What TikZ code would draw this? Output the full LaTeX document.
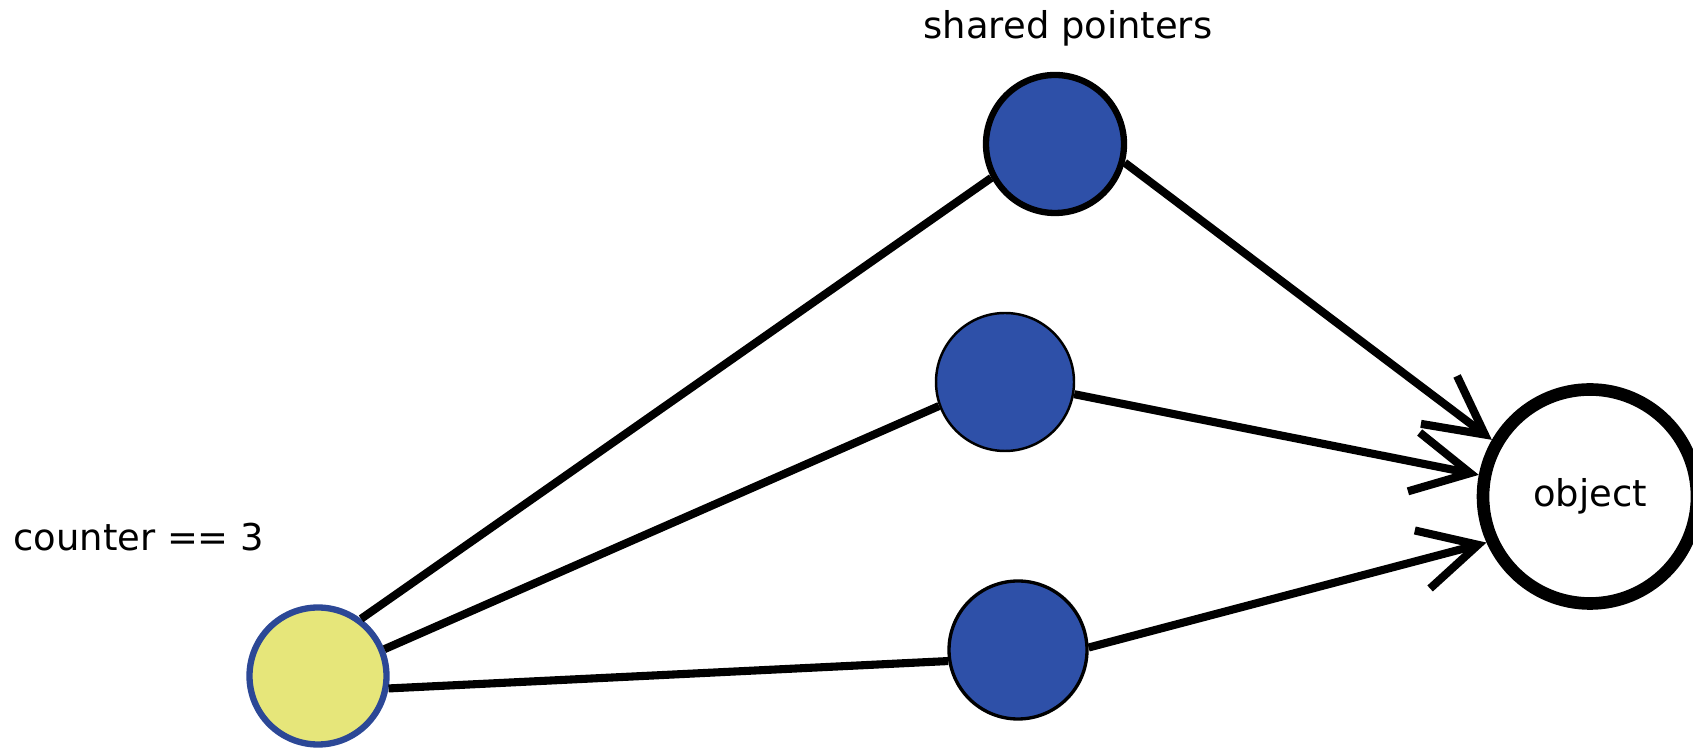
\documentclass[tikz,border=0pt]{standalone}
\usepackage{fontspec}
\setmainfont{DejaVu Sans}
\usetikzlibrary{arrows.meta}

\definecolor{pointerblue}{RGB}{46,80,168}
\definecolor{counteryellow}{RGB}{230,230,122}
\definecolor{counterrim}{RGB}{44,72,150}

\begin{document}
\begin{tikzpicture}[ptr/.style={draw=black, fill=pointerblue, circle, inner sep=0pt, minimum size=2.76cm}]
            \tikzset{link/.style = {line width=4.6pt}}
            \tikzset{edge/.style = {link, -{Straight Barb[length=1.15cm, width=1.2cm]}}}
            \tikzset{caption/.style = {font=\fontsize{21}{25}\selectfont, inner sep=0pt}}

            \useasboundingbox (0,0) rectangle (33.86,14.96);

            \node[circle, draw=counterrim, fill=counteryellow, line width=3.6pt, minimum size=2.74cm] (counter) at (6.36,1.44) {};
            \node[ptr, line width=3.6pt] (ptrA) at (21.1,12.08) {};
            \node[ptr, line width=1.4pt] (ptrB) at (20.1,7.32) {};
            \node[ptr, line width=1.9pt] (ptrC) at (20.36,1.96) {};
            \node[circle, draw, line width=7.2pt, minimum size=4.28cm, caption] (object) at (31.8,5.03) {object};

            \node[caption, anchor=west] (countlabel) at (0.26,4.21) {counter == 3};
            \node[caption] (ptrlabel) at (21.36,14.39) {shared pointers};

            \draw [link] (counter.53) to (ptrA.208);
            \draw [link] (counter.22) to (ptrB.200);
            \draw [link] (counter.-10) to (ptrC.189);

            \draw [edge] (ptrA.-15) to (object.150);
            \draw [edge] (ptrB.-10) to (object.169);
            \draw [edge] (ptrC.2) to (object.204);
\end{tikzpicture}
\end{document}
